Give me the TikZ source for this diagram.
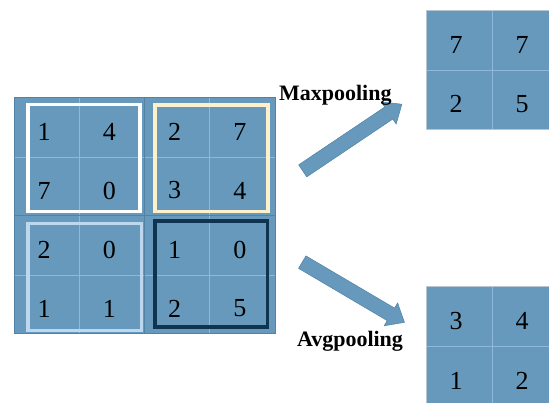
\documentclass[tikz,border=0pt]{standalone}
\usepackage{fontspec}
\setmainfont{Liberation Serif}
\usetikzlibrary{shapes.arrows}
\definecolor{cellblue}{HTML}{6699BB}
\definecolor{edgeblue}{HTML}{5282A4}
\definecolor{gridline}{HTML}{8EB8E0}
\definecolor{outgray}{HTML}{B9C6D1}
\definecolor{creamline}{HTML}{FFF0CC}
\definecolor{paleline}{HTML}{BDD7EE}
\definecolor{navyline}{HTML}{0F3450}
\begin{document}
\begin{tikzpicture}[x=1pt,y=-1pt,
  num/.style={inner sep=0pt, font=\fontsize{26}{30}\selectfont},
  poollabel/.style={inner sep=0pt, font=\fontsize{22}{26}\selectfont\bfseries},
  thinline/.style={gridline, line width=0.8pt},
  windowbox/.style={line width=3.5pt},
  blockarrow/.style={single arrow, fill=cellblue, draw=edgeblue, line width=0.5pt,
    inner xsep=0pt, inner ysep=7pt, single arrow head extend=6pt,
    single arrow tip angle=80, shape border uses incircle=false}]
\useasboundingbox (0,0) rectangle (549,403);
\clip (0,0) rectangle (549,403);

% ---- 4x4 input feature map ----
\fill[cellblue] (14,98) rectangle (275,334);
\draw[thinline] (79,98) -- (79,334) (209,98) -- (209,334)
                (14,157) -- (275,157) (14,275) -- (275,275);
\draw[edgeblue, line width=1pt] (144,98) -- (144,334) (14,216) -- (275,216);
\draw[edgeblue, line width=1pt] (14,98) rectangle (275,334);

\foreach \v [count=\i from 0] in {1,4,2,7, 7,0,3,4, 2,0,1,0, 1,1,2,5} {
  \pgfmathtruncatemacro{\c}{mod(\i,4)}
  \pgfmathtruncatemacro{\r}{int(\i/4)}
  \node[num] (in-\r-\c) at ({14+65.25*(\c+0.5)-2.5},{98+59*(\r+0.5)+4}) {\v};
}

% ---- 2x2 pooling windows ----
\draw[windowbox, white]     (28,104.5)  rectangle (140,211.5);
\draw[windowbox, creamline] (155,105)   rectangle (268,211.5);
\draw[windowbox, paleline]  (28,223.5)  rectangle (141.5,330.5);
\draw[windowbox, navyline]  (155,221)   rectangle (267.5,327);

% ---- max pooling result ----
\fill[cellblue] (426,10.7) rectangle (558,129.3);
\draw[thinline] (492,10.7) -- (492,129.3) (426,70) -- (558,70);
\draw[outgray, line width=0.8pt] (426,10.7) rectangle (558,129.3);
\foreach \v [count=\i from 0] in {7,7,2,5} {
  \pgfmathtruncatemacro{\c}{mod(\i,2)}
  \pgfmathtruncatemacro{\r}{int(\i/2)}
  \node[num] (max-\r-\c) at ({426+66*(\c+0.5)-3},{10.7+59.3*(\r+0.5)+4.5}) {\v};
}

% ---- average pooling result ----
\fill[cellblue] (426,286.7) rectangle (558,405.7);
\draw[thinline] (492,286.7) -- (492,405.7) (426,346.2) -- (558,346.2);
\draw[outgray, line width=0.8pt] (426,286.7) rectangle (558,405.7);
\foreach \v [count=\i from 0] in {3,4,1,2} {
  \pgfmathtruncatemacro{\c}{mod(\i,2)}
  \pgfmathtruncatemacro{\r}{int(\i/2)}
  \node[num] (avg-\r-\c) at ({426+66*(\c+0.5)-3},{286.7+59.5*(\r+0.5)+4.5}) {\v};
}

% ---- arrows and labels ----
\node[blockarrow, minimum height=119.5pt, rotate=33.9, anchor=tail] (maxarrow) at (302.5,171) {};
\node[blockarrow, minimum height=118.7pt, rotate=-30.5, anchor=tail] (avgarrow) at (302,262) {};
\node[poollabel, anchor=base] (maxlabel) at (335.3,101) {Maxpooling};
\node[poollabel, anchor=base] (avglabel) at (350,346.5) {Avgpooling};
\end{tikzpicture}
\end{document}
